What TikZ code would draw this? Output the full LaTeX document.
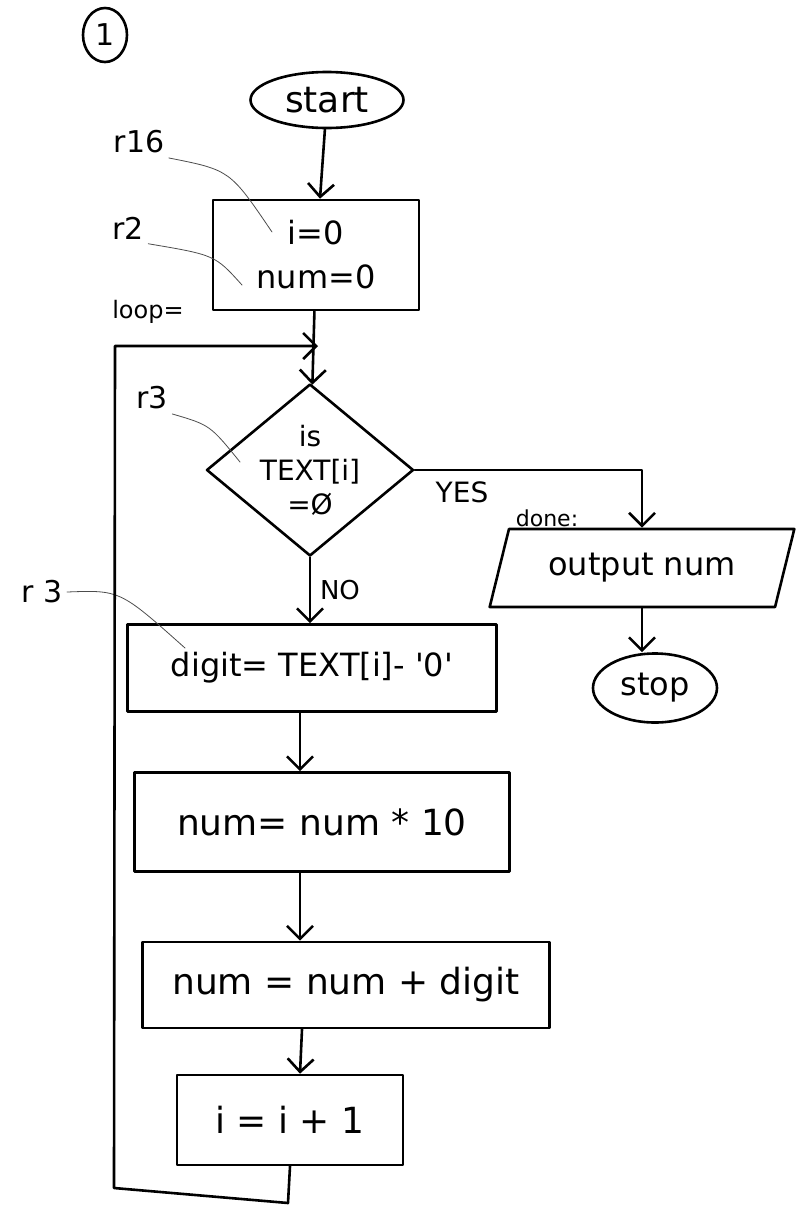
\documentclass[tikz,border=0pt]{standalone}
\usepackage{fontspec}
\setmainfont{DejaVu Sans}
\usetikzlibrary{shapes.geometric,arrows.meta}

\begin{document}
\begin{tikzpicture}[x=1pt,y=-1pt,line width=2.6pt,line join=round,line cap=round,
    >={Straight Barb[length=13pt,width=26pt]},
    font=\fontsize{36}{40}\selectfont,
    term/.style={draw,ellipse,inner sep=0pt},
    proc/.style={draw,rectangle,inner sep=0pt,align=center},
    decision/.style={draw,diamond,aspect=1.2,inner sep=-10pt,align=center},
    io/.style={draw,trapezium,trapezium left angle=65,trapezium right angle=115,
      trapezium stretches,inner sep=0pt},
    tag/.style={font=\fontsize{30}{34}\selectfont},
    note/.style={line width=0.8pt,black!70}]
  \useasboundingbox (0,0) rectangle (796,1208);

  \node[draw,ellipse,inner sep=0pt,minimum width=44,minimum height=54,
    font=\fontsize{30}{30}\selectfont] (one) at (105,35) {1};

  % main column
  \node[term,minimum width=153,minimum height=56] (start) at (327,100) {start};
  \node[proc,minimum width=206,minimum height=110,font=\fontsize{32}{44}\selectfont]
    (init) at (316,255) {i=0\\num=0};
  \coordinate (join) at (318,346);
  \node[decision,minimum width=207,minimum height=172,font=\fontsize{28}{34}\selectfont]
    (cmp) at (310,470) {is\\TEXT[i]\\=Ø};
  \node[proc,minimum width=369,minimum height=87,font=\fontsize{32}{36}\selectfont]
    (digit) at (312,668) {digit= TEXT[i]- \textquotesingle 0\textquotesingle};
  \node[proc,minimum width=375,minimum height=99] (mul) at (322,822) {num= num * 10};
  \node[proc,minimum width=407,minimum height=86] (add) at (346,985) {num = num + digit};
  \node[proc,minimum width=226,minimum height=90] (inc) at (290,1120) {i = i + 1};

  % exit branch
  \node[io,minimum width=305,minimum height=78,font=\fontsize{32}{36}\selectfont]
    (out) at (642,568) {output num};
  \node[term,minimum width=124,minimum height=69,font=\fontsize{32}{36}\selectfont]
    (stop) at (655,688) {stop};

  % labels
  \node[tag] (r16) at (139,142) {r16};
  \node[tag] (r2) at (128,228) {r2};
  \node[tag] (r3a) at (152,398) {r3};
  \node[tag] (r3b) at (42,592) {r 3};
  \node[font=\fontsize{24}{28}\selectfont] (loop) at (148,312) {loop=};
  \node[font=\fontsize{28}{32}\selectfont] (yes) at (462,492) {YES};
  \node[font=\fontsize{22}{26}\selectfont] (done) at (547,518) {done:};
  \node[font=\fontsize{26}{30}\selectfont] (no) at (340,590) {NO};

  % register leaders
  \coordinate (i0) at (272,232);
  \coordinate (n0) at (242,285);
  \coordinate (ti) at (240,462);
  \coordinate (dg) at (185,648);
  \draw[note] (r16.south east) .. controls (230,170) .. (i0);
  \draw[note] (r2.south east) .. controls (215,255) .. (n0);
  \draw[note] (r3a.south east) .. controls (210,425) .. (ti);
  \draw[note] (r3b.east) .. controls (120,590) .. (dg);

  % flow
  \draw[->] (start) -- (init);
  \draw[->] (init) -- (cmp);
  \draw[->] (cmp.east) -| (out.north);
  \draw[->] (cmp.south) -- (digit.north -| cmp.south);
  \draw[->] (out.south) -- (out.south |- stop.north);
  \draw[->] ([xshift=-12pt]digit.south) -- ([xshift=-22pt]mul.north);
  \draw[->] ([xshift=-22pt]mul.south) -- ([xshift=-46pt]add.north);
  \draw[->] ([xshift=-44pt]add.south) -- ([xshift=10pt]inc.north);

  % back to loop
  \coordinate (back) at (288,1203);
  \coordinate (corner) at (114,1188);
  \coordinate (top) at (115,346);
  \draw[->] (inc.south) -- (back) -- (corner) -- (top) -- (join);
\end{tikzpicture}
\end{document}
